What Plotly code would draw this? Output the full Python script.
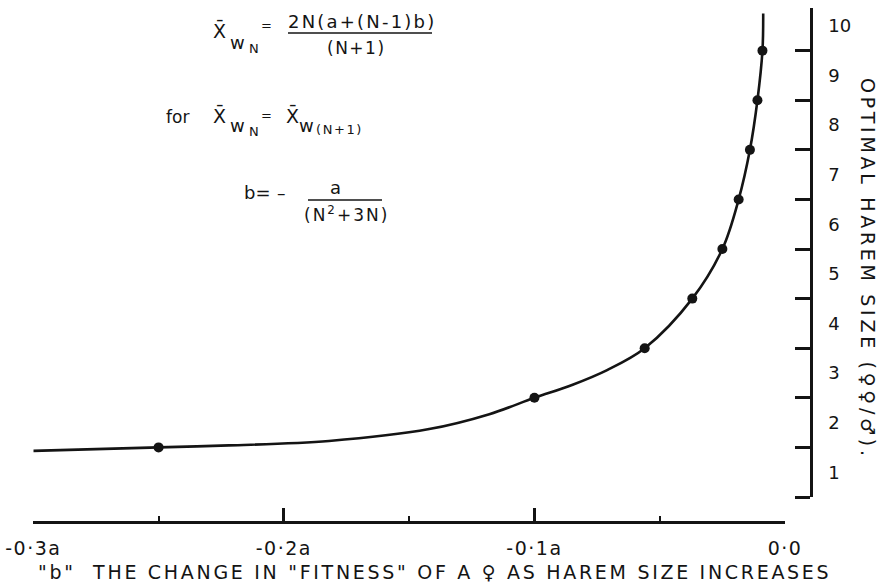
import plotly.graph_objects as go

# ---- data ----
# switch points: b value at which optimal harem size moves up one step
switch_b = [-0.25, -0.10, -0.056, -0.037, -0.025, -0.0185, -0.014, -0.011, -0.009]
switch_size = [1.5, 2.5, 3.5, 4.5, 5.5, 6.5, 7.5, 8.5, 9.5]

# hand-drawn smooth curve
curve_b = [-0.300, -0.250, -0.222, -0.182, -0.142, -0.118, -0.100, -0.085, -0.071,
           -0.056, -0.037, -0.025, -0.0185, -0.014, -0.011, -0.009, -0.0087]
curve_size = [1.43, 1.50, 1.54, 1.63, 1.87, 2.17, 2.50, 2.76, 3.06,
              3.50, 4.50, 5.50, 6.50, 7.50, 8.50, 9.50, 10.25]

x_tickvals = [-0.3, -0.2, -0.1, 0.0]
x_ticktext = ["-0·3a", "-0·2a", "-0·1a", "0·0"]
x_minor = [-0.25, -0.15, -0.05]
y_tickvals = [1, 2, 3, 4, 5, 6, 7, 8, 9, 10]
y_ticktext = ["1", "2", "3", "4", "5", "6", "7", "8", "9", "10"]
y_band_edges = [0.5, 1.5, 2.5, 3.5, 4.5, 5.5, 6.5, 7.5, 8.5, 9.5]

W, H = 888, 587
FONT = "DejaVu Sans"
INK = "#141414"


def px(x):
    return x / W


def py(y):
    return 1 - y / H


def spaced(s, ls):
    return f'<span style="letter-spacing:{ls}px">{s}</span>'


fig = go.Figure()
fig.add_trace(go.Scatter(x=curve_b, y=curve_size, mode="lines",
                         line=dict(color=INK, width=2.6, shape="spline", smoothing=1.0),
                         hoverinfo="skip", showlegend=False))
fig.add_trace(go.Scatter(x=switch_b, y=switch_size, mode="markers",
                         marker=dict(color=INK, size=10),
                         showlegend=False))

fig.update_layout(
    width=W, height=H,
    margin=dict(l=0, r=0, t=0, b=0),
    paper_bgcolor="white", plot_bgcolor="white",
    font=dict(family=FONT, color=INK, size=17),
    xaxis=dict(domain=[px(33.3), px(785)], range=[-0.3, 0.0],
               anchor="free", position=py(522),
               showline=True, linecolor=INK, linewidth=2.5,
               showgrid=False, zeroline=False,
               tickmode="array", tickvals=x_tickvals,
               ticktext=[spaced(t, 1.5) for t in x_ticktext],
               ticks="inside", ticklen=13, tickwidth=2.5, tickcolor=INK,
               ticklabelstandoff=8, tickfont=dict(size=19),
               ticklabeloverflow="allow",
               minor=dict(tickvals=x_minor, ticks="inside", ticklen=5,
                          tickwidth=2, tickcolor=INK, showgrid=False),
               automargin=False),
    yaxis=dict(domain=[py(497), py(8)], range=[0.5, 10.36],
               side="right", anchor="free", position=px(811),
               showline=True, linecolor=INK, linewidth=2.5,
               showgrid=False, zeroline=False,
               tickmode="array", tickvals=y_tickvals, ticktext=y_ticktext,
               ticks="", ticklabelstandoff=12, tickfont=dict(size=18),
               minor=dict(tickvals=y_band_edges, ticks="inside", ticklen=15,
                          tickwidth=2.5, tickcolor=INK, showgrid=False),
               automargin=False),
)

ann = []


def text(x, y, s, size=17, xanchor="center", angle=0, ls=0):
    if ls:
        s = spaced(s, ls)
    ann.append(dict(x=px(x), y=py(y), xref="paper", yref="paper", text=s,
                    showarrow=False, xanchor=xanchor, yanchor="middle",
                    textangle=angle, font=dict(size=size, family=FONT, color=INK)))


# axis titles
text(434, 572, "\"b\"  THE CHANGE IN \"FITNESS\" OF A ♀ AS HAREM SIZE INCREASES", size=19, ls=2.7)
text(868, 269, "OPTIMAL HAREM SIZE (♀♀/♂).", size=19, angle=90, ls=3.7)

# formula block
text(219, 30, "X̄", size=19)
text(237, 42, "w", size=18)
text(254, 49, "N", size=13)
text(266, 25, "=", size=13)
text(362, 21, "2N(a+(N-1)b)", size=18, ls=2.2)
text(356, 48, "(N+1)", size=17, ls=1.5)

text(177, 117, "for", size=17)
text(219, 116, "X̄", size=19)
text(237, 126, "w", size=18)
text(254, 131, "N", size=13)
text(266, 116, "=", size=13)
text(292, 116, "X̄", size=19)
text(306, 126, "w", size=18)
text(339, 130, "(N+1)", size=13, ls=1.6)

text(257, 192, "b=", size=18)
text(281, 193, "–", size=17)
text(335, 187, "a", size=18)
text(346, 214, "(N<sup>2</sup>+3N)", size=17, ls=2)

fig.update_layout(annotations=ann)

shapes = [
    dict(type="line", xref="paper", yref="paper", x0=px(288), x1=px(432), y0=py(33), y1=py(33),
         line=dict(color=INK, width=1.6)),
    dict(type="line", xref="paper", yref="paper", x0=px(308), x1=px(382), y0=py(200), y1=py(200),
         line=dict(color=INK, width=1.6)),
]
fig.update_layout(shapes=shapes)

# let the figure sit at the window's top-left corner
fig.write_html("out.html",
               config={"displayModeBar": False},
               post_script="document.body.style.margin='0';document.body.style.overflow='hidden';")
